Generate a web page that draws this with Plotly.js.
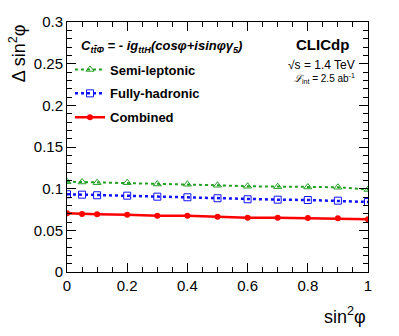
<!DOCTYPE html>
<html>
<head>
<meta charset="utf-8" />
<script src="https://cdn.plot.ly/plotly-3.0.1.min.js"></script>
<style>
  html, body { margin: 0; padding: 0; background: #fff; }
  #plot { width: 399px; height: 336px; }
</style>
</head>
<body>
<div id="plot"></div>
<script>
// sin^2(phi) scan points
const sin2phi = [0, 0.05, 0.1, 0.2, 0.3, 0.4, 0.5, 0.6, 0.7, 0.8, 0.9, 1.0];

// Delta sin^2(phi) per channel
const semiLeptonic = [0.1084, 0.1080, 0.1072, 0.1072, 0.1056, 0.1053, 0.1041, 0.1029, 0.1024, 0.1020, 0.1017, 0.0990];
const fullyHadronic = [0.0933, 0.0928, 0.0921, 0.0916, 0.0904, 0.0897, 0.0885, 0.0873, 0.0868, 0.0864, 0.0856, 0.0840];
const combined = [0.0705, 0.0696, 0.0693, 0.0688, 0.0676, 0.0676, 0.0664, 0.0652, 0.0652, 0.0648, 0.0645, 0.0633];

const seriesNames = ['Semi-leptonic', 'Fully-hadronic', 'Combined'];

const font = 'Liberation Sans, Arial, sans-serif';

const traces = [
  {
    x: sin2phi, y: semiLeptonic, name: seriesNames[0], legendgroup: 'a',
    type: 'scatter', mode: 'lines+markers',
    line: {color: '#22a022', width: 2, dash: 'dot'},
    marker: {symbol: 'triangle-up-open', size: 7, color: '#22a022', line: {width: 1}}
  },
  {
    x: sin2phi, y: fullyHadronic, name: seriesNames[1], legendgroup: 'b',
    type: 'scatter', mode: 'lines+markers',
    line: {color: '#1010ff', width: 2.5, dash: 'dot'},
    marker: {symbol: 'square-open', size: 7, color: '#1010ff', line: {width: 1}}
  },
  {
    x: sin2phi, y: combined, name: seriesNames[2], legendgroup: 'c',
    type: 'scatter', mode: 'lines+markers',
    line: {color: '#ff0000', width: 2.5},
    marker: {symbol: 'circle', size: 6, color: '#ff0000'}
  }
];

const axisCommon = {
  showgrid: false,
  zeroline: false,
  showline: true,
  linecolor: '#000',
  linewidth: 1,
  mirror: 'ticks',
  ticks: 'inside',
  ticklen: 9,
  tickcolor: '#000',
  tickfont: {family: font, size: 15, color: '#000'}
};

const layout = {
  width: 399,
  height: 336,
  margin: {l: 67, r: 31, t: 22, b: 64},
  paper_bgcolor: '#fff',
  plot_bgcolor: '#fff',
  showlegend: true,
  legend: {
    x: 0.01, y: 0.87, xanchor: 'left', yanchor: 'top',
    bgcolor: 'rgba(0,0,0,0)',
    font: {family: font, size: 13, color: '#000', weight: 'bold'},
    itemwidth: 30,
    tracegroupgap: 4
  },
  xaxis: Object.assign({}, axisCommon, {
    range: [0, 1],
    dtick: 0.2,
    tickformat: '~g',
    minor: {dtick: 0.05, ticklen: 5, tickcolor: '#000', ticks: 'inside'}
  }),
  yaxis: Object.assign({}, axisCommon, {
    range: [0, 0.3],
    dtick: 0.05,
    tickformat: '~g',
    minor: {dtick: 0.01, ticklen: 5, tickcolor: '#000', ticks: 'inside'}
  }),
  annotations: [
    {
      xref: 'paper', yref: 'paper', x: 1, y: -0.12, xanchor: 'right', yanchor: 'top',
      text: 'sin<sup>2</sup>φ', showarrow: false,
      font: {family: font, size: 18, color: '#000'}
    },
    {
      xref: 'paper', yref: 'paper', x: -0.165, y: 1.0, xanchor: 'center', yanchor: 'top',
      text: 'Δ sin<sup>2</sup>φ', showarrow: false, textangle: -90,
      font: {family: font, size: 18, color: '#000'}
    },
    {
      xref: 'paper', yref: 'paper', x: 0.04, y: 0.9, xanchor: 'left', yanchor: 'middle',
      text: '<b><i>C<sub>tt̄Φ</sub> = - ig<sub>ttH</sub>(cosφ+isinφγ<sub>5</sub>)</i></b>',
      showarrow: false,
      font: {family: font, size: 13, color: '#000'}
    },
    {
      xref: 'paper', yref: 'paper', x: 0.945, y: 0.91, xanchor: 'right', yanchor: 'middle',
      text: '<b>CLICdp</b>', showarrow: false,
      font: {family: font, size: 15, color: '#000'}
    },
    {
      xref: 'paper', yref: 'paper', x: 0.965, y: 0.83, xanchor: 'right', yanchor: 'middle',
      text: '√s = 1.4 TeV', showarrow: false,
      font: {family: font, size: 12, color: '#000'}
    },
    {
      xref: 'paper', yref: 'paper', x: 0.965, y: 0.775, xanchor: 'right', yanchor: 'middle',
      text: '<i>ℒ</i><sub>int</sub> = 2.5 ab<sup>-1</sup>', showarrow: false,
      font: {family: font, size: 10, color: '#000'}
    }
  ]
};

Plotly.newPlot('plot', traces, layout, {displayModeBar: false, staticPlot: true});
</script>
</body>
</html>
